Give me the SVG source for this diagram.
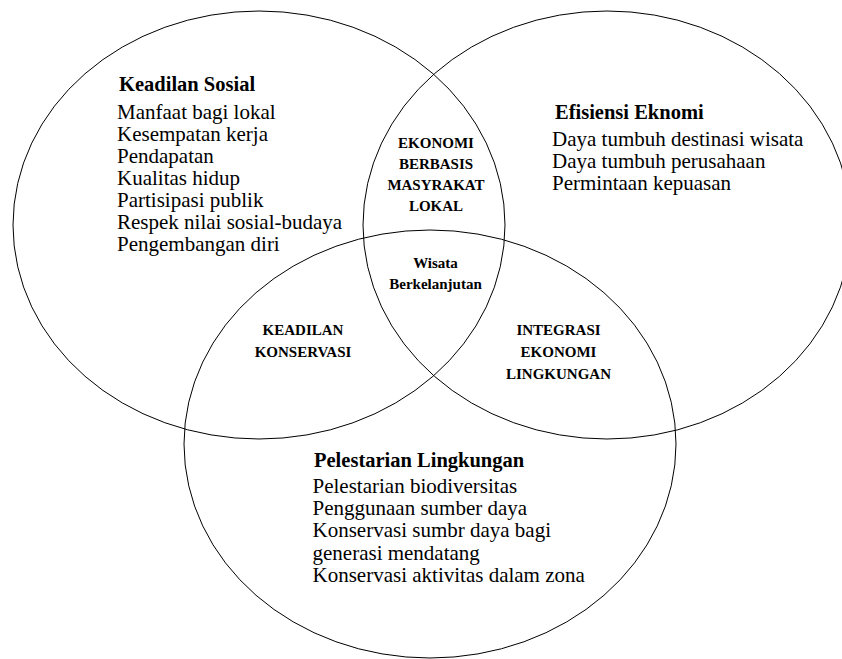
<svg xmlns="http://www.w3.org/2000/svg" width="842" height="659" viewBox="0 0 842 659">
  <style>
    .ring { fill: none; stroke: #000; stroke-width: 1; }
    .head { font-family: "Liberation Serif", "Times New Roman", serif; font-weight: bold; font-size: 20.5px; fill: #000; }
    .body { font-family: "Liberation Serif", "Times New Roman", serif; font-size: 21px; fill: #000; }
    .mid  { font-family: "Liberation Serif", "Times New Roman", serif; font-weight: bold; font-size: 15px; fill: #000; text-anchor: middle; }
  </style>
  <rect width="842" height="659" fill="#fff"/>

  <!-- the three overlapping circles -->
  <g id="connectors">
    <ellipse class="ring" cx="259" cy="225" rx="246" ry="214"/>
    <ellipse class="ring" cx="607" cy="225" rx="244" ry="214"/>
    <ellipse class="ring" cx="430" cy="444" rx="246" ry="214"/>
  </g>

  <g id="keadilan-sosial">
    <text class="head" x="119" y="91">Keadilan Sosial</text>
    <text class="body" x="117" y="118.5">Manfaat bagi lokal</text>
    <text class="body" x="117" y="140.5">Kesempatan kerja</text>
    <text class="body" x="117" y="162.5">Pendapatan</text>
    <text class="body" x="117" y="184.5">Kualitas hidup</text>
    <text class="body" x="117" y="206.5">Partisipasi publik</text>
    <text class="body" x="117" y="228.5">Respek nilai sosial-budaya</text>
    <text class="body" x="117" y="250.5">Pengembangan diri</text>
  </g>

  <g id="efisiensi-ekonomi">
    <text class="head" x="555" y="119">Efisiensi Eknomi</text>
    <text class="body" x="552" y="145.5">Daya tumbuh destinasi wisata</text>
    <text class="body" x="552" y="167.5">Daya tumbuh perusahaan</text>
    <text class="body" x="552" y="189.5">Permintaan kepuasan</text>
  </g>

  <g id="pelestarian-lingkungan">
    <text class="head" x="314" y="466.5">Pelestarian Lingkungan</text>
    <text class="body" x="312.5" y="493">Pelestarian biodiversitas</text>
    <text class="body" x="312.5" y="515">Penggunaan sumber daya</text>
    <text class="body" x="312.5" y="537">Konservasi sumbr daya bagi</text>
    <text class="body" x="312.5" y="559.5">generasi mendatang</text>
    <text class="body" x="312.5" y="582">Konservasi aktivitas dalam zona</text>
  </g>

  <g id="ekonomi-berbasis">
    <text class="mid" x="436" y="147.5">EKONOMI</text>
    <text class="mid" x="436" y="168.5">BERBASIS</text>
    <text class="mid" x="436" y="190">MASYRAKAT</text>
    <text class="mid" x="436" y="211">LOKAL</text>
  </g>

  <g id="wisata-berkelanjutan">
    <text class="mid" x="435.5" y="267.5">Wisata</text>
    <text class="mid" x="435.5" y="288.5">Berkelanjutan</text>
  </g>

  <g id="keadilan-konservasi">
    <text class="mid" x="303" y="335">KEADILAN</text>
    <text class="mid" x="303" y="356.5">KONSERVASI</text>
  </g>

  <g id="integrasi-ekonomi">
    <text class="mid" x="558.5" y="335">INTEGRASI</text>
    <text class="mid" x="558.5" y="356.5">EKONOMI</text>
    <text class="mid" x="558.5" y="379">LINGKUNGAN</text>
  </g>
</svg>
